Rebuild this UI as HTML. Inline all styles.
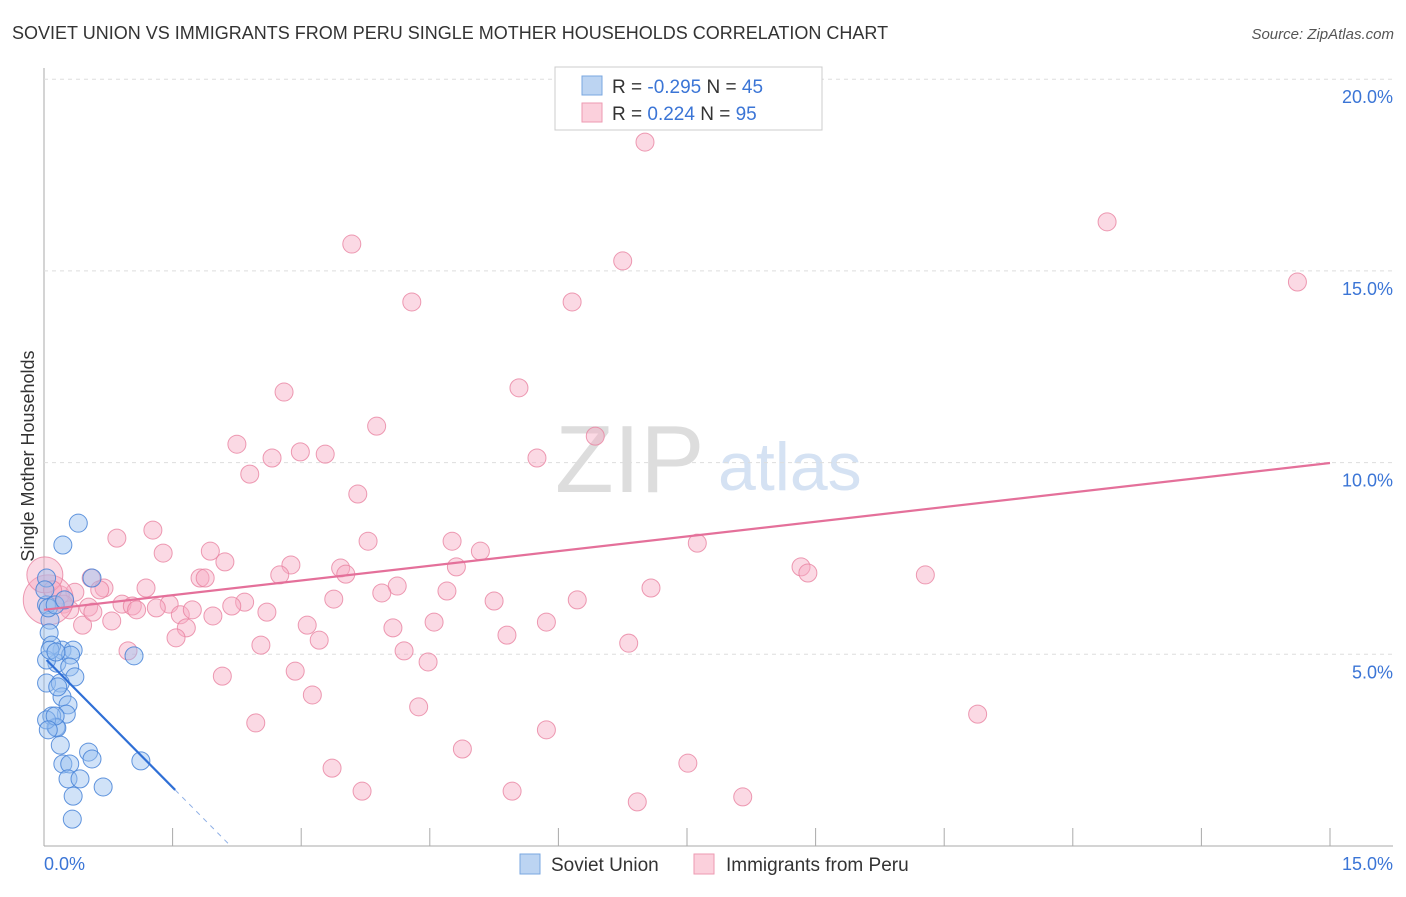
<!DOCTYPE html>
<html><head><meta charset="utf-8"><style>
body{margin:0;background:#fff;font-family:"Liberation Sans",sans-serif;}
svg text{font-family:"Liberation Sans",sans-serif;}
</style></head><body>
<svg id="chart" width="1406" height="892">
<text x="12" y="39" font-size="18" fill="#333">SOVIET UNION VS IMMIGRANTS FROM PERU SINGLE MOTHER HOUSEHOLDS CORRELATION CHART</text>
<text x="1394" y="39" font-size="15" fill="#555" font-style="italic" text-anchor="end">Source: ZipAtlas.com</text>
<text x="555" y="492" font-size="96" fill="#ddd" font-family="Liberation Serif">ZIP</text>
<text x="718" y="490" font-size="68" fill="#d5e2f3">atlas</text>
<text transform="translate(34,456) rotate(-90)" font-size="18" fill="#333" text-anchor="middle">Single Mother Households</text>
<g id="grid"></g><g id="pts"></g><g id="lines"></g>
<g>
<rect x="555" y="67" width="267" height="63" fill="#fff" stroke="#ccc"/>
<rect x="582" y="76" width="20" height="19" fill="#bcd4f2" stroke="#7aa7e0"/>
<rect x="582" y="103" width="20" height="19" fill="#fbd0dc" stroke="#ee9ab2"/>
<text x="612" y="93" font-size="19" fill="#333">R = <tspan fill="#3b75d6">-0.295</tspan>   N = <tspan fill="#3b75d6">45</tspan></text>
<text x="612" y="120" font-size="19" fill="#333">R =  <tspan fill="#3b75d6">0.224</tspan>   N = <tspan fill="#3b75d6">95</tspan></text>
</g>
<g>
<rect x="520" y="854" width="20" height="20" fill="#bcd4f2" stroke="#7aa7e0"/>
<text x="551" y="871" font-size="19" fill="#333">Soviet Union</text>
<rect x="694" y="854" width="20" height="20" fill="#fbd0dc" stroke="#ee9ab2"/>
<text x="726" y="871" font-size="19" fill="#333">Immigrants from Peru</text>
</g>
<text x="44" y="870" font-size="18" fill="#3b75d6">0.0%</text>
<text x="1393" y="870" font-size="18" fill="#3b75d6" text-anchor="end">15.0%</text>
</svg>
<script>
const yTicks=[5,10,15,20];
const yTickLabels=["5.0%","10.0%","15.0%","20.0%"];
const xTicks=[0,1.5,3,4.5,6,7.5,9,10.5,12,13.5,15];
const sovX=[0.40,0.22,0.56,0.03,0.03,0.07,0.06,0.21,0.09,0.34,0.15,0.31,0.30,0.36,0.03,0.19,0.21,0.28,0.26,0.09,0.14,0.15,0.19,0.52,0.56,0.22,0.30,0.28,0.42,0.34,0.69,0.33,1.05,1.13,0.03,0.05,0.01,0.13,0.07,0.14,0.03,0.16,0.13,0.05,0.24];
const sovY=[8.42,7.85,6.99,6.99,6.29,5.89,5.56,5.11,5.24,5.11,4.77,4.98,4.67,4.41,4.25,4.25,3.89,3.68,3.44,3.39,3.10,3.08,2.63,2.45,2.27,2.14,2.14,1.75,1.75,1.30,1.54,0.70,4.96,2.22,4.85,6.21,6.68,6.29,5.11,5.06,3.29,4.15,3.39,3.03,6.42];
const peruX=[7.01,12.40,3.59,6.75,14.62,4.29,6.16,2.80,5.54,3.88,6.43,2.25,2.99,2.66,3.28,5.75,2.40,3.66,1.27,0.85,3.78,4.76,7.62,1.39,5.09,1.94,2.11,2.88,3.46,4.81,8.83,8.91,10.28,0.55,1.82,1.88,2.75,3.52,1.19,0.70,0.65,4.12,3.94,4.70,7.08,0.36,0.19,0.23,0.91,1.03,1.08,1.46,1.31,1.59,1.73,2.34,2.19,2.60,3.38,5.25,6.22,0.52,0.45,0.79,0.57,1.97,3.07,1.66,4.07,4.55,5.86,1.54,3.21,5.40,2.53,6.82,0.98,4.20,4.48,2.93,2.08,3.13,4.37,10.89,2.47,5.86,4.88,3.36,7.51,5.46,3.71,6.92,8.15,0.30,0.05,0.01,0.10];
const peruY=[18.36,16.28,15.70,15.26,14.71,14.19,14.19,11.84,11.95,10.95,10.69,10.48,10.28,10.12,10.22,10.12,9.70,9.18,8.24,8.03,7.95,7.95,7.90,7.64,7.69,7.69,7.41,7.33,7.25,7.28,7.28,7.12,7.07,6.99,6.99,6.99,7.07,7.09,6.73,6.73,6.68,6.78,6.60,6.65,6.73,6.62,6.55,6.31,6.31,6.26,6.16,6.31,6.21,6.03,6.16,6.36,6.26,6.10,6.44,6.39,6.42,6.23,5.76,5.87,6.10,6.00,5.76,5.69,5.69,5.84,5.84,5.43,5.37,5.50,5.24,5.29,5.09,5.09,4.80,4.56,4.43,3.94,3.63,3.44,3.21,3.03,2.53,2.03,2.16,1.43,1.43,1.15,1.28,6.16,6.42,7.07,6.68];
const peruBig=[94,25,95,18];
const sovLine=[4.92,-2.26];
const peruLine=[6.16,9.99];
const X=v=>44+v/15*1286, Y=v=>846-v*38.34;
const NS="http://www.w3.org/2000/svg";
function mk(t,a,p){const e=document.createElementNS(NS,t);for(const k in a)e.setAttribute(k,a[k]);p.appendChild(e);return e;}
const grid=document.getElementById('grid');
const axL=mk('line',{x1:44,y1:68,x2:44,y2:846,stroke:'#aaa'},grid);


const axB=mk('line',{x1:44,y1:846,x2:1393,y2:846,stroke:'#aaa'},grid);


yTicks.forEach((t,i)=>{
 const g=mk('line',{x1:44,x2:1393,y1:Y(t),y2:Y(t),stroke:'#ddd','stroke-dasharray':'4,4'},grid);
 
 
 const tx=mk('text',{x:1393,y:Y(t)+24,'font-size':18,fill:'#3b75d6','text-anchor':'end'},grid);
 tx.textContent=yTickLabels[i];
 
 
});
xTicks.forEach(t=>{
 const l=mk('line',{x1:X(t),x2:X(t),y1:828,y2:846,stroke:'#aaa'},grid);
 
 
});
const pts=document.getElementById('pts');
peruX.forEach((x,i)=>{
 let r=9; for(let k=0;k<peruBig.length;k+=2) if(peruBig[k]===i) r=peruBig[k+1];
 const c=mk('circle',{cx:X(x),cy:Y(peruY[i]),r:r,fill:'rgba(246,170,195,0.45)',stroke:'rgba(232,130,160,0.8)','stroke-width':1},pts);
 
 
});
sovX.forEach((x,i)=>{
 const c=mk('circle',{cx:X(x),cy:Y(sovY[i]),r:9,fill:'rgba(150,190,240,0.45)',stroke:'rgba(70,130,215,0.85)','stroke-width':1},pts);
 
 
});
const lines=document.getElementById('lines');
const xs0=0.03,xs1=1.53,xs2=-sovLine[0]/sovLine[1];
const s1=mk('line',{x1:X(xs0),y1:Y(sovLine[0]+sovLine[1]*xs0),x2:X(xs1),y2:Y(sovLine[0]+sovLine[1]*xs1),stroke:'#2f6fd6','stroke-width':2.2},lines);


const s2=mk('line',{x1:X(xs1),y1:Y(sovLine[0]+sovLine[1]*xs1),x2:X(xs2),y2:Y(0),stroke:'#8fb0e6','stroke-width':1,'stroke-dasharray':'5,5'},lines);


const p1=mk('line',{x1:X(0),y1:Y(peruLine[0]),x2:X(15),y2:Y(peruLine[1]),stroke:'#e4709a','stroke-width':2.2},lines);


</script>
</body></html>
